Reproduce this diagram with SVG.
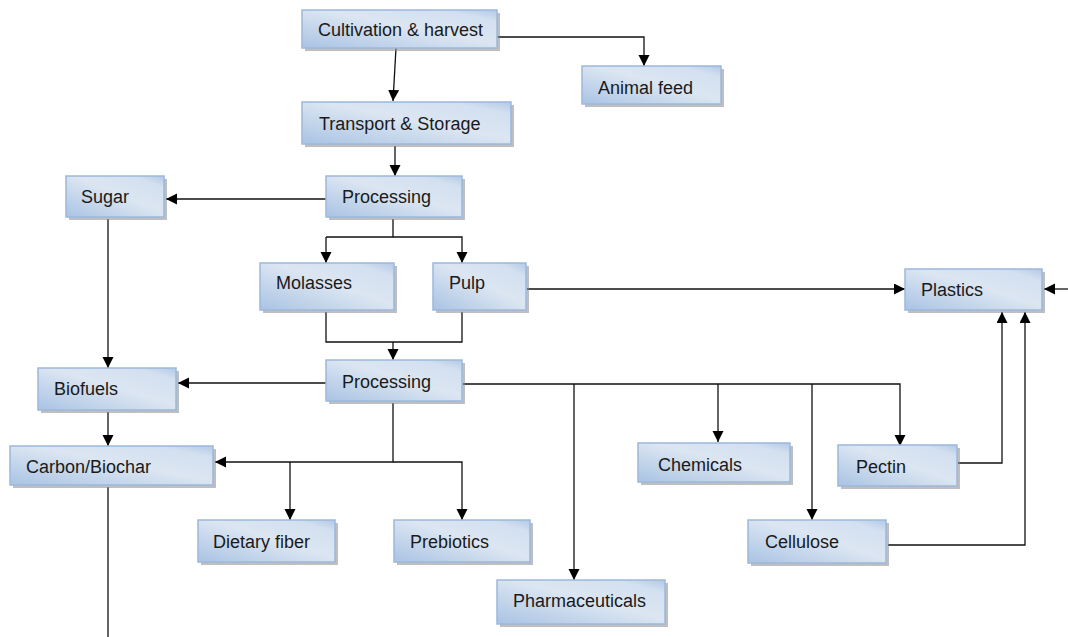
<svg xmlns="http://www.w3.org/2000/svg" width="1068" height="637" viewBox="0 0 1068 637">
<defs>
<linearGradient id="g" x1="0" y1="1" x2="1" y2="0">
<stop offset="0" stop-color="#a9c3e3"/>
<stop offset="0.55" stop-color="#dce6f2"/>
<stop offset="0.85" stop-color="#d3e0f0"/>
<stop offset="1" stop-color="#b3c9e6"/>
</linearGradient>
<marker id="ah" markerUnits="userSpaceOnUse" markerWidth="12" markerHeight="12" refX="11" refY="5.5" orient="auto">
<path d="M0,0 L11,5.5 L0,11 z" fill="#000"/>
</marker>
<style>
.box{fill:url(#g);stroke:#9cb8dc;stroke-width:1.5}
.sh{fill:#8a8a8a;opacity:0.55}
.t{font-family:"Liberation Sans",Arial,sans-serif;font-size:18px;fill:#1a1a1a}
.c{fill:none;stroke:#111;stroke-width:1.3}
.a{marker-end:url(#ah)}
</style>
</defs>
<g id="connectors">
<path class="c a" d="M396,48 L393,101"/>
<path class="c a" d="M497,37 H644 V66"/>
<path class="c a" d="M395,146 V176"/>
<path class="c a" d="M326,199 H166"/>
<path class="c" d="M393,219 V237 H326"/>
<path class="c a" d="M326,237 V263"/>
<path class="c a" d="M393,237 H462 V263"/>
<path class="c" d="M326,312 V342 H462 V312"/>
<path class="c a" d="M393,342 V360"/>
<path class="c a" d="M527,289 H905"/>
<path class="c a" d="M1068,289 H1044"/>
<path class="c a" d="M108,219 V368"/>
<path class="c a" d="M326,383 H178"/>
<path class="c a" d="M463,384 H900 V446"/>
<path class="c a" d="M574,384 V580"/>
<path class="c a" d="M718,384 V442"/>
<path class="c a" d="M812,384 V520"/>
<path class="c a" d="M393,403 V462 H215"/>
<path class="c a" d="M290,462 V520"/>
<path class="c a" d="M393,462 H462 V520"/>
<path class="c a" d="M108,412 V446"/>
<path class="c" d="M108,487 V637"/>
<path class="c a" d="M958,463 H1002 V312"/>
<path class="c a" d="M888,545 H1025 V312"/>
</g>
<g id="cultivation"><rect class="sh" x="305" y="13" width="195" height="38"/><rect class="box" x="302" y="10" width="195" height="38"/><text class="t" x="318" y="36">Cultivation &amp; harvest</text></g>
<g id="animal-feed"><rect class="sh" x="585" y="69" width="139" height="38"/><rect class="box" x="582" y="66" width="139" height="38"/><text class="t" x="598" y="94">Animal feed</text></g>
<g id="transport"><rect class="sh" x="305" y="105" width="209" height="42"/><rect class="box" x="302" y="102" width="209" height="42"/><text class="t" x="319" y="130">Transport &amp; Storage</text></g>
<g id="processing1"><rect class="sh" x="329" y="179" width="136" height="41"/><rect class="box" x="326" y="176" width="136" height="41"/><text class="t" x="342" y="203">Processing</text></g>
<g id="sugar"><rect class="sh" x="69" y="179" width="98" height="41"/><rect class="box" x="66" y="176" width="98" height="41"/><text class="t" x="81" y="203">Sugar</text></g>
<g id="molasses"><rect class="sh" x="263" y="266" width="134" height="47"/><rect class="box" x="260" y="263" width="134" height="47"/><text class="t" x="276" y="289">Molasses</text></g>
<g id="pulp"><rect class="sh" x="436" y="266" width="93" height="47"/><rect class="box" x="433" y="263" width="93" height="47"/><text class="t" x="449" y="289">Pulp</text></g>
<g id="plastics"><rect class="sh" x="908" y="272" width="137" height="41"/><rect class="box" x="905" y="269" width="137" height="41"/><text class="t" x="921" y="296">Plastics</text></g>
<g id="processing2"><rect class="sh" x="329" y="363" width="136" height="41"/><rect class="box" x="326" y="360" width="136" height="41"/><text class="t" x="342" y="388">Processing</text></g>
<g id="biofuels"><rect class="sh" x="41" y="371" width="138" height="42"/><rect class="box" x="38" y="368" width="138" height="42"/><text class="t" x="54" y="395">Biofuels</text></g>
<g id="carbon"><rect class="sh" x="13" y="449" width="203" height="39"/><rect class="box" x="10" y="446" width="203" height="39"/><text class="t" x="26" y="473">Carbon/Biochar</text></g>
<g id="dietary-fiber"><rect class="sh" x="201" y="523" width="137" height="42"/><rect class="box" x="198" y="520" width="137" height="42"/><text class="t" x="213" y="548">Dietary fiber</text></g>
<g id="prebiotics"><rect class="sh" x="397" y="523" width="136" height="42"/><rect class="box" x="394" y="520" width="136" height="42"/><text class="t" x="410" y="548">Prebiotics</text></g>
<g id="chemicals"><rect class="sh" x="641" y="446" width="152" height="39"/><rect class="box" x="638" y="443" width="152" height="39"/><text class="t" x="658" y="471">Chemicals</text></g>
<g id="pectin"><rect class="sh" x="841" y="448" width="119" height="41"/><rect class="box" x="838" y="445" width="119" height="41"/><text class="t" x="856" y="473">Pectin</text></g>
<g id="cellulose"><rect class="sh" x="751" y="523" width="138" height="43"/><rect class="box" x="748" y="520" width="138" height="43"/><text class="t" x="765" y="548">Cellulose</text></g>
<g id="pharmaceuticals"><rect class="sh" x="500" y="583" width="168" height="44"/><rect class="box" x="497" y="580" width="168" height="44"/><text class="t" x="513" y="607">Pharmaceuticals</text></g>
</svg>
